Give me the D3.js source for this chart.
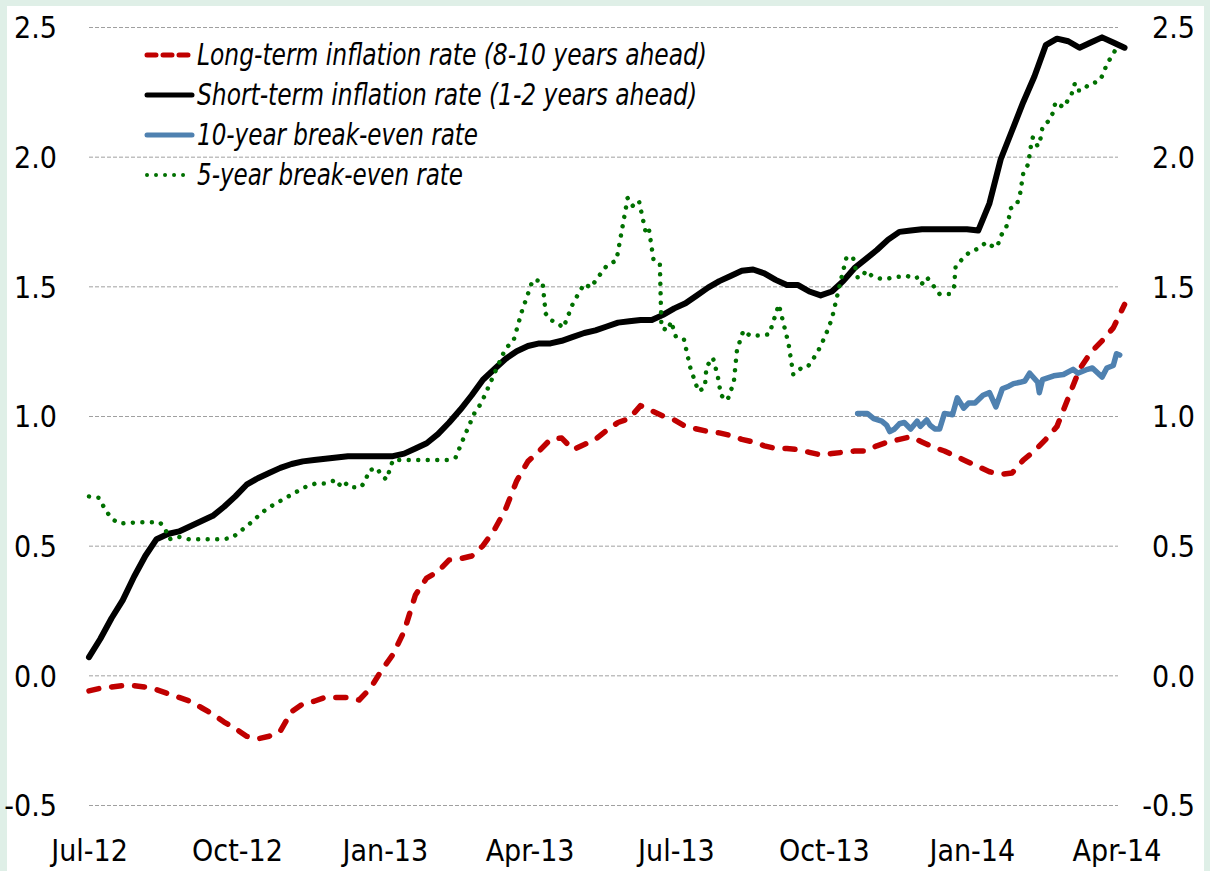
<!DOCTYPE html>
<html>
<head>
<meta charset="utf-8">
<script src="https://cdn.jsdelivr.net/npm/d3@7"></script>
<style>
  html, body { margin: 0; padding: 0; background: #dfefe7; }
  text { font-family: "Liberation Sans Narrow", "DejaVu Sans Condensed", "Roboto", sans-serif; fill: #000; }
</style>
</head>
<body>
<div id="chart"></div>
<script>
// Data
// ==========================================
var weekStart = "2012-07-01";

// Short-term inflation rate (1-2 years ahead), weekly
var shortTermValues = [0.07, 0.14, 0.22, 0.29, 0.38, 0.46, 0.525, 0.545, 0.555, 0.575,
    0.595, 0.615, 0.65, 0.69, 0.735, 0.76, 0.78, 0.80, 0.815, 0.825,
    0.83, 0.835, 0.84, 0.845, 0.845, 0.845, 0.845, 0.845, 0.855, 0.875,
    0.895, 0.93, 0.975, 1.025, 1.08, 1.14, 1.18, 1.22, 1.25, 1.27,
    1.28, 1.28, 1.29, 1.305, 1.32, 1.33, 1.345, 1.36, 1.365, 1.37,
    1.37, 1.39, 1.415, 1.435, 1.465, 1.495, 1.52, 1.54, 1.56, 1.565,
    1.55, 1.525, 1.505, 1.505, 1.48, 1.465, 1.48, 1.52, 1.57, 1.605,
    1.64, 1.68, 1.71, 1.715, 1.72, 1.72, 1.72, 1.72, 1.72, 1.715,
    1.82, 1.99, 2.10, 2.21, 2.31, 2.43, 2.455, 2.445, 2.42, 2.44,
    2.46, 2.44, 2.42];

// Long-term inflation rate (8-10 years ahead), weekly
var longTermValues = [-0.06, -0.05, -0.045, -0.04, -0.04, -0.045, -0.055, -0.07, -0.085, -0.10,
    -0.125, -0.15, -0.18, -0.205, -0.235, -0.245, -0.235, -0.215, -0.14, -0.11,
    -0.10, -0.085, -0.085, -0.085, -0.095, -0.05, 0.02, 0.08, 0.17, 0.31,
    0.375, 0.40, 0.445, 0.45, 0.46, 0.50, 0.56, 0.64, 0.75, 0.825,
    0.865, 0.91, 0.915, 0.87, 0.89, 0.91, 0.945, 0.975, 0.99, 1.04,
    1.02, 1.00, 0.985, 0.96, 0.95, 0.94, 0.935, 0.925, 0.91, 0.90,
    0.885, 0.875, 0.875, 0.87, 0.86, 0.85, 0.855, 0.86, 0.865, 0.865,
    0.885, 0.90, 0.91, 0.92, 0.90, 0.88, 0.865, 0.845, 0.825, 0.805,
    0.785, 0.775, 0.78, 0.83, 0.865, 0.91, 0.96, 1.07, 1.18, 1.245,
    1.29, 1.34, 1.43];

// 5-year break-even rate
var fiveYearDates = ["2012-07-01", "2012-07-07", "2012-07-12", "2012-07-16", "2012-07-20", "2012-07-31", "2012-08-08", "2012-08-14", "2012-08-17", "2012-08-20",
    "2012-08-25", "2012-09-01", "2012-09-22", "2012-09-28", "2012-10-02", "2012-10-10", "2012-10-17", "2012-10-23", "2012-11-02", "2012-11-12",
    "2012-11-19", "2012-11-25", "2012-11-30", "2012-12-03", "2012-12-06", "2012-12-10", "2012-12-17", "2012-12-20", "2012-12-22", "2012-12-27",
    "2012-12-30", "2013-01-02", "2013-01-06", "2013-02-09", "2013-02-14", "2013-02-19", "2013-02-26", "2013-03-02", "2013-03-07", "2013-03-12",
    "2013-03-17", "2013-03-22", "2013-03-27", "2013-04-03", "2013-04-09", "2013-04-11", "2013-04-14", "2013-04-18", "2013-04-22", "2013-04-28",
    "2013-05-05", "2013-05-09", "2013-05-13", "2013-05-19", "2013-05-25", "2013-06-01", "2013-06-04", "2013-06-08", "2013-06-12", "2013-06-14",
    "2013-06-17", "2013-06-21", "2013-06-22", "2013-06-26", "2013-06-28", "2013-07-01", "2013-07-06", "2013-07-10", "2013-07-15", "2013-07-19",
    "2013-07-20", "2013-07-24", "2013-07-27", "2013-07-29", "2013-08-02", "2013-08-06", "2013-08-08", "2013-08-12", "2013-08-16", "2013-08-22",
    "2013-08-28", "2013-09-03", "2013-09-06", "2013-09-09", "2013-09-12", "2013-09-17", "2013-09-21", "2013-09-27", "2013-10-02", "2013-10-06",
    "2013-10-12", "2013-10-15", "2013-10-19", "2013-10-22", "2013-10-25", "2013-10-27", "2013-10-31", "2013-11-05", "2013-11-10", "2013-11-14",
    "2013-11-22", "2013-11-25", "2013-11-29", "2013-12-01", "2013-12-04", "2013-12-06", "2013-12-09", "2013-12-12", "2013-12-18", "2013-12-21",
    "2013-12-22", "2013-12-27", "2013-12-31", "2014-01-05", "2014-01-10", "2014-01-15", "2014-01-17", "2014-01-19", "2014-01-22", "2014-01-24",
    "2014-01-25", "2014-01-29", "2014-01-31", "2014-02-01", "2014-02-02", "2014-02-05", "2014-02-06", "2014-02-07", "2014-02-08", "2014-02-11",
    "2014-02-13", "2014-02-14", "2014-02-19", "2014-02-21", "2014-02-22", "2014-02-27", "2014-03-01", "2014-03-04", "2014-03-06", "2014-03-07",
    "2014-03-11", "2014-03-15", "2014-03-21", "2014-03-24", "2014-03-26", "2014-03-29", "2014-04-01"];
var fiveYearValues = [0.69, 0.685, 0.63, 0.60, 0.585, 0.59, 0.59, 0.59, 0.57, 0.525,
    0.535, 0.525, 0.525, 0.53, 0.55, 0.59, 0.63, 0.655, 0.69, 0.725,
    0.74, 0.74, 0.75, 0.73, 0.75, 0.725, 0.725, 0.75, 0.79, 0.80,
    0.77, 0.755, 0.83, 0.83, 0.84, 0.915, 1.015, 1.05, 1.12, 1.19,
    1.26, 1.29, 1.40, 1.525, 1.52, 1.395, 1.37, 1.36, 1.34, 1.435,
    1.51, 1.495, 1.53, 1.58, 1.60, 1.84, 1.81, 1.83, 1.715, 1.73,
    1.605, 1.59, 1.34, 1.33, 1.365, 1.305, 1.295, 1.185, 1.095, 1.11,
    1.19, 1.225, 1.155, 1.08, 1.06, 1.13, 1.255, 1.33, 1.31, 1.31,
    1.315, 1.43, 1.355, 1.28, 1.16, 1.185, 1.19, 1.245, 1.31, 1.375,
    1.535, 1.61, 1.615, 1.535, 1.535, 1.56, 1.54, 1.53, 1.53, 1.535,
    1.54, 1.53, 1.535, 1.51, 1.535, 1.52, 1.495, 1.47, 1.47, 1.50,
    1.58, 1.61, 1.635, 1.645, 1.67, 1.65, 1.655, 1.695, 1.72, 1.76,
    1.80, 1.815, 1.855, 1.895, 1.935, 1.97, 2.01, 2.05, 2.075, 2.04,
    2.075, 2.115, 2.145, 2.18, 2.21, 2.19, 2.21, 2.24, 2.28, 2.255,
    2.255, 2.28, 2.29, 2.32, 2.36, 2.385, 2.42];

// 10-year break-even rate
var tenYearDates = ["2013-10-22", "2013-10-28", "2013-11-01", "2013-11-06", "2013-11-09", "2013-11-11", "2013-11-14", "2013-11-17", "2013-11-20", "2013-11-24",
    "2013-11-28", "2013-11-30", "2013-12-04", "2013-12-06", "2013-12-09", "2013-12-12", "2013-12-15", "2013-12-20", "2013-12-23", "2013-12-27",
    "2013-12-30", "2014-01-03", "2014-01-08", "2014-01-12", "2014-01-16", "2014-01-20", "2014-01-24", "2014-01-27", "2014-01-31", "2014-02-03",
    "2014-02-06", "2014-02-11", "2014-02-12", "2014-02-14", "2014-02-21", "2014-02-27", "2014-03-05", "2014-03-08", "2014-03-14", "2014-03-17",
    "2014-03-23", "2014-03-26", "2014-03-30", "2014-04-01", "2014-04-03"];
var tenYearValues = [1.01, 1.01, 0.99, 0.98, 0.965, 0.94, 0.95, 0.97, 0.975, 0.95,
    0.98, 0.96, 0.985, 0.965, 0.95, 0.95, 1.01, 1.005, 1.07, 1.03,
    1.05, 1.05, 1.08, 1.09, 1.035, 1.105, 1.115, 1.125, 1.13, 1.135,
    1.165, 1.13, 1.09, 1.14, 1.155, 1.16, 1.18, 1.165, 1.18, 1.185,
    1.15, 1.185, 1.195, 1.24, 1.235];

var yTicks = [-0.5, 0.0, 0.5, 1.0, 1.5, 2.0, 2.5];
var xTickStart = "2012-07-01";
var xTickEnd = "2014-04-01";

var legendLabels = ["Long-term inflation rate (8-10 years ahead)",
    "Short-term inflation rate (1-2 years ahead)",
    "10-year break-even rate",
    "5-year break-even rate"];

// Set up the chart
// ==========================================
var svgWidth = 1210;
var svgHeight = 871;

var plot = { left: 89, right: 1118, top: 27, bottom: 805 };

var parseDate = d3.timeParse("%Y-%m-%d");

var svg = d3.select("#chart")
    .append("svg")
    .attr("width", svgWidth)
    .attr("height", svgHeight)
    .style("display", "block");

// mint frame + white panel
svg.append("rect")
    .attr("width", svgWidth)
    .attr("height", svgHeight)
    .attr("fill", "#dfefe7");

svg.append("rect")
    .attr("x", 7)
    .attr("y", 6)
    .attr("width", 1197)
    .attr("height", svgHeight - 6)
    .attr("fill", "#ffffff");

// Build series
// ==========================================
var start = parseDate(weekStart);
var weeks = shortTermValues.map((v, i) => d3.timeWeek.offset(start, i));

var shortTerm = weeks.map((d, i) => ({ date: d, value: shortTermValues[i] }));
var longTerm = weeks.map((d, i) => ({ date: d, value: longTermValues[i] }));
var fiveYear = fiveYearDates.map((d, i) => ({ date: parseDate(d), value: fiveYearValues[i] }));
var tenYear = tenYearDates.map((d, i) => ({ date: parseDate(d), value: tenYearValues[i] }));

// Scales
// ==========================================
var xTimeScale = d3.scaleTime()
    .domain([parseDate(xTickStart), parseDate(xTickEnd)])
    .range([89, 1116.5]);

var yLinearScale = d3.scaleLinear()
    .domain([-0.5, 2.5])
    .range([plot.bottom, plot.top]);

// Gridlines
// ==========================================
svg.append("g")
    .selectAll("line")
    .data(yTicks)
    .enter()
    .append("line")
    .attr("x1", plot.left)
    .attr("x2", plot.right)
    .attr("y1", d => yLinearScale(d) + 0.5)
    .attr("y2", d => yLinearScale(d) + 0.5)
    .attr("stroke", "#a0a0a0")
    .attr("stroke-width", 1)
    .attr("stroke-dasharray", "4,2");

// Axes (labels only)
// ==========================================
var fmt = d => d.toFixed(1);

var leftAxis = d3.axisLeft(yLinearScale)
    .tickValues(yTicks)
    .tickFormat(fmt)
    .tickSize(0)
    .tickPadding(0);

var rightAxis = d3.axisLeft(yLinearScale)
    .tickValues(yTicks)
    .tickFormat(fmt)
    .tickSize(0)
    .tickPadding(0);

var bottomAxis = d3.axisBottom(xTimeScale)
    .ticks(d3.timeMonth.every(3))
    .tickFormat(d3.timeFormat("%b-%y"))
    .tickSize(0)
    .tickPadding(0);

[[leftAxis, 57], [rightAxis, 1195]].forEach(function(a) {
    var g = svg.append("g")
        .attr("transform", `translate(${a[1]}, 0)`)
        .call(a[0]);
    g.select(".domain").remove();
    g.selectAll("text")
        .attr("font-size", 30)
        .attr("font-family", null)
        .attr("fill", "#000")
        .attr("dy", "0.36em");
});

var xg = svg.append("g")
    .attr("transform", "translate(0, 837)")
    .call(bottomAxis);
xg.select(".domain").remove();
xg.selectAll("text")
    .attr("font-size", 30)
    .attr("font-family", null)
    .attr("fill", "#000")
    .attr("dy", "0.8em");

// Lines
// ==========================================
var line = d3.line()
    .x(d => xTimeScale(d.date))
    .y(d => yLinearScale(d.value));

var seriesStyles = [
    { data: longTerm, color: "#c00000", width: 5.5, dash: "10,13" },
    { data: shortTerm, color: "#000000", width: 6, dash: null },
    { data: tenYear, color: "#4f81b0", width: 5.5, dash: null },
    { data: fiveYear, color: "#007000", width: 4.5, dash: "0.01,9.5" }
];

// draw order: red under, then blue, black, green on top
[0, 2, 1, 3].forEach(function(k) {
    var s = seriesStyles[k];
    svg.append("path")
        .datum(s.data)
        .attr("d", line)
        .attr("fill", "none")
        .attr("stroke", s.color)
        .attr("stroke-width", s.width)
        .attr("stroke-linejoin", "round")
        .attr("stroke-linecap", "round")
        .attr("stroke-dasharray", s.dash);
});

// Legend
// ==========================================
var legendWidths = [510, 500, 281, 266];
var legendRows = [55, 95, 135, 175];

var legend = svg.append("g");
seriesStyles.forEach(function(s, i) {
    legend.append("line")
        .attr("x1", 147)
        .attr("x2", 192)
        .attr("y1", legendRows[i])
        .attr("y2", legendRows[i])
        .attr("stroke", s.color)
        .attr("stroke-width", i === 3 ? 4 : 5)
        .attr("stroke-linecap", "round")
        .attr("stroke-dasharray", s.dash ? (i === 0 ? "9,7" : "0.01,9") : null);

    legend.append("text")
        .attr("x", 197)
        .attr("y", legendRows[i] + 10)
        .attr("font-size", 30)
        .attr("font-style", "italic")
        .attr("textLength", legendWidths[i])
        .attr("lengthAdjust", "spacingAndGlyphs")
        .text(legendLabels[i]);
});
</script>
</body>
</html>
